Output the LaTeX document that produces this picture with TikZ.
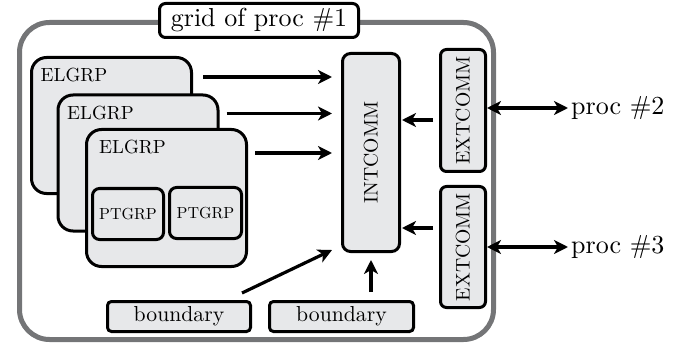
\documentclass[tikz,border=0pt]{standalone}
\usepackage{fontspec}
\setmainfont{lmroman10-regular.otf}
\usetikzlibrary{arrows.meta,calc}
\definecolor{boxfill}{HTML}{E7E8EA}
\definecolor{outergray}{HTML}{747577}
\newcommand{\fs}[1]{\fontsize{#1}{#1}\selectfont}
\begin{document}
\begin{tikzpicture}[x=1pt,y=-1pt,
  box/.style={draw=black, line width=3pt, fill=boxfill, inner sep=0pt, rounded corners=#1},
  box/.default=8pt,
  lbl/.style={inner sep=0pt, anchor=west, font=\fs{19}},
  arr/.style={line width=3.2pt, -{Stealth[length=14pt,width=14pt,inset=4pt]}},
  darr/.style={line width=3.2pt, {Stealth[length=14pt,width=14pt,inset=4pt]}-{Stealth[length=14pt,width=14pt,inset=4pt]}}
]
\useasboundingbox (0,0) rectangle (691,350);
% outer frame
\draw[outergray, line width=5pt, rounded corners=30pt] (19.5,22.5) rectangle (493.5,339.5);
\node[box=6pt, fill=white, minimum width=199pt, minimum height=34pt, font=\fs{26}] (title) at (259,20.5) {grid of proc \#1};
% ELGRP stack
\node[box=15pt, minimum width=160pt, minimum height=136pt] (e1) at (111.5,125.5) {};
\node[lbl] (l1) at ($(e1.north west)+(10.5,19.5)$) {ELGRP};
\node[box=15pt, minimum width=160pt, minimum height=136pt] (e2) at (138,163) {};
\node[lbl] (l2) at ($(e2.north west)+(10.5,20)$) {ELGRP};
\node[box=15pt, minimum width=160pt, minimum height=137pt] (e3) at (166.5,198) {};
\node[lbl] (l3) at ($(e3.north west)+(14,19)$) {ELGRP};
\node[box=7pt, minimum width=71pt, minimum height=51pt, font=\fs{16}] (pt1) at (128,214) {PTGRP};
\node[box=7pt, minimum width=72pt, minimum height=51pt, font=\fs{16}] (pt2) at (205.5,213) {PTGRP};
% INTCOMM / EXTCOMM
\node[box=8pt, minimum width=57pt, minimum height=198pt] (int) at (371,152.5) {};
\node[inner sep=0pt, rotate=90, font=\fs{19.7}] (intl) at (int.center) {INTCOMM};
\node[box=6pt, minimum width=45pt, minimum height=122pt] (x1) at (463,110.5) {};
\node[inner sep=0pt, rotate=90, font=\fs{19.7}] (x1l) at (x1.center) {EXTCOMM};
\node[box=6pt, minimum width=45pt, minimum height=121pt] (x2) at (463,247) {};
\node[inner sep=0pt, rotate=90, font=\fs{19.7}] (x2l) at (x2.center) {EXTCOMM};
% boundary
\node[box=4pt, minimum width=143pt, minimum height=30pt, font=\fs{21.7}] (b1) at (179,316.5) {boundary};
\node[box=4pt, minimum width=144pt, minimum height=30pt, font=\fs{21.7}] (b2) at (341.5,316.5) {boundary};
% proc labels
\node[inner sep=0pt, anchor=west, font=\fs{26}] (p2) at (571,108) {proc \#2};
\node[inner sep=0pt, anchor=west, font=\fs{26}] (p3) at (571,247) {proc \#3};
% arrows
\draw[arr] ($(e1.north east)+(10,21)$) -- ($(int.west |- e1.north east)+(-9,21)$);
\draw[arr] ($(e2.north east)+(7,20)$) -- ($(int.west |- e2.north east)+(-9,20)$);
\draw[arr] ($(e3.north east)+(7,25)$) -- ($(int.west |- e3.north east)+(-9,25)$);
\draw[arr] ($(x1.west)+(-6,9.5)$) -- ($(int.east |- x1.west)+(1,9.5)$);
\draw[arr] ($(x2.west)+(-6,-19)$) -- ($(int.east |- x2.west)+(1,-19)$);
\draw[darr] (x1.east |- p2.west) -- ($(p2.west)+(-3,0)$);
\draw[darr] (x2.east |- p3.west) -- ($(p3.west)+(-3,0)$);
\draw[arr] ($(b1.north east)+(-10,-7)$) -- ($(int.south west)+(-9,-3)$);
\draw[arr] ($(int.south |- b2.north)+(0,-8)$) -- ($(int.south)+(0,7)$);
\end{tikzpicture}
\end{document}
